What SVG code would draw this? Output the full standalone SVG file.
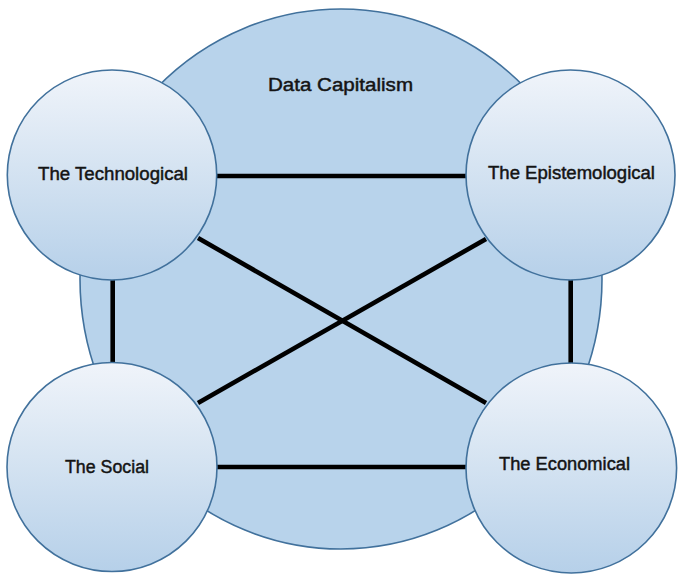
<svg xmlns="http://www.w3.org/2000/svg" width="685" height="583" viewBox="0 0 685 583">
<defs>
<linearGradient id="g" x1="0" y1="0" x2="0" y2="1">
<stop offset="0" stop-color="#f0f4fa"/>
<stop offset="0.45" stop-color="#d6e4f2"/>
<stop offset="1" stop-color="#b6d0e9"/>
</linearGradient>
</defs>
<style>
.outer{fill:#b8d3eb;stroke:#41719c;stroke-width:1.6}
.node{fill:url(#g);stroke:#41719c;stroke-width:1.6}
.edge{stroke:#000;stroke-width:4.6;fill:none}
text{font-family:"Liberation Sans",Arial,sans-serif;font-size:18px;fill:#141414;stroke:#141414;stroke-width:0.45;text-anchor:middle}
</style>
<g id="data-capitalism">
<ellipse class="outer" cx="341" cy="279" rx="261" ry="270"/>
<text x="340.5" y="91" textLength="145" lengthAdjust="spacingAndGlyphs">Data Capitalism</text>
</g>
<g id="connectors">
<line class="edge" x1="210" y1="176" x2="472" y2="176"/>
<line class="edge" x1="210" y1="467" x2="472" y2="467"/>
<line class="edge" x1="112.7" y1="275" x2="112.7" y2="368"/>
<line class="edge" x1="570.7" y1="275" x2="570.7" y2="368"/>
<line class="edge" x1="198" y1="238" x2="486" y2="403"/>
<line class="edge" x1="486" y1="239" x2="198" y2="403"/>
</g>
<g id="technological">
<ellipse class="node" cx="112" cy="175" rx="104.7" ry="105"/>
<text x="113" y="180" textLength="150" lengthAdjust="spacingAndGlyphs">The Technological</text>
</g>
<g id="epistemological">
<ellipse class="node" cx="570.5" cy="175" rx="104.5" ry="105"/>
<text x="571.5" y="179" textLength="167" lengthAdjust="spacingAndGlyphs">The Epistemological</text>
</g>
<g id="social">
<ellipse class="node" cx="112" cy="467" rx="105" ry="104.5"/>
<text x="107" y="472.5" textLength="84" lengthAdjust="spacingAndGlyphs">The Social</text>
</g>
<g id="economical">
<ellipse class="node" cx="571.3" cy="468" rx="105.3" ry="105"/>
<text x="564.5" y="470" textLength="131" lengthAdjust="spacingAndGlyphs">The Economical</text>
</g>
</svg>
